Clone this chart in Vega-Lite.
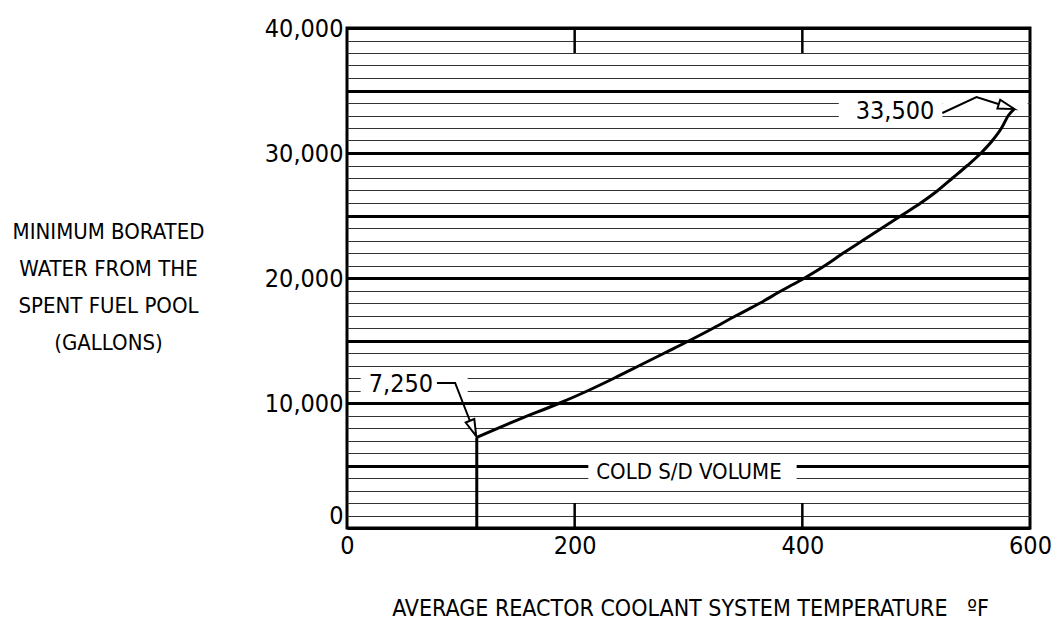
{
  "$schema": "https://vega.github.io/schema/vega-lite/v6.json",
  "autosize": {"type": "none"},
  "padding": {"left": 347, "top": 28, "right": 27, "bottom": 96},
  "width": 683,
  "height": 500,
  "background": "white",
  "config": {
    "view": {"stroke": "black", "strokeWidth": 3},
    "font": "DejaVu Sans Condensed, DejaVu Sans, sans-serif",
    "axis": {"labelFont": "DejaVu Sans Condensed, DejaVu Sans, sans-serif", "titleFont": "DejaVu Sans Condensed, DejaVu Sans, sans-serif", "labelColor": "black", "titleColor": "black", "titleFontWeight": "normal"}
  },
  "datasets": {
    "curve": [
      {"t": 114, "v": 7250}, {"t": 150, "v": 8650}, {"t": 187, "v": 10000}, {"t": 212, "v": 11000},
      {"t": 235, "v": 12000}, {"t": 257, "v": 13000}, {"t": 279, "v": 14000}, {"t": 301, "v": 15000},
      {"t": 322, "v": 16000}, {"t": 342, "v": 17000}, {"t": 363, "v": 18000}, {"t": 382, "v": 19000},
      {"t": 402, "v": 20000}, {"t": 420, "v": 21000}, {"t": 436, "v": 22000}, {"t": 453, "v": 23000},
      {"t": 470, "v": 24000}, {"t": 487, "v": 25000}, {"t": 504, "v": 26000}, {"t": 519, "v": 27000},
      {"t": 532, "v": 28000}, {"t": 545, "v": 29000}, {"t": 557, "v": 30000}, {"t": 567, "v": 31000},
      {"t": 575, "v": 32000}, {"t": 581, "v": 33000}, {"t": 586, "v": 33500}
    ],
    "floor": [{"t": 114, "v0": 0, "v1": 7250}],
    "ticks": [
      {"t": 200, "v0": 0, "v1": 2000}, {"t": 400, "v0": 0, "v1": 2000},
      {"t": 200, "v0": 38000, "v1": 40000}, {"t": 400, "v0": 38000, "v1": 40000}
    ],
    "masks": [
      {"t0": 212, "t1": 395, "v0": 3300, "v1": 5700},
      {"t0": 12, "t1": 106, "v0": 10600, "v1": 12600},
      {"t0": 432, "t1": 523, "v0": 32600, "v1": 34400},
      {"t0": 523, "t1": 598, "v0": 33800, "v1": 34200}
    ],
    "leaders": [
      {"ann": "a", "seq": 1, "t": 79, "v": 11600},
      {"ann": "a", "seq": 2, "t": 95, "v": 11600},
      {"ann": "a", "seq": 3, "t": 113, "v": 7400},
      {"ann": "b", "seq": 1, "t": 523, "v": 33200},
      {"ann": "b", "seq": 2, "t": 553, "v": 34480},
      {"ann": "b", "seq": 3, "t": 586, "v": 33520}
    ],
    "heads": [
      {"ann": "a", "t": 113.5, "v": 7350},
      {"ann": "b", "t": 586.5, "v": 33510}
    ],
    "notes": [
      {"t": 47.4, "v": 11520, "text": "7,250", "kind": "num"},
      {"t": 481.4, "v": 33360, "text": "33,500", "kind": "num"},
      {"t": 300.4, "v": 4480, "text": "COLD S/D VOLUME", "kind": "word"}
    ]
  },
  "layer": [
    {
      "data": {"name": "masks"},
      "mark": {"type": "rect", "fill": "white", "stroke": null},
      "encoding": {
        "x": {
          "field": "t0", "type": "quantitative",
          "scale": {"domain": [0, 600], "nice": false, "zero": false},
          "axis": {
            "values": [0, 200, 400, 600], "tickCount": 10,
            "ticks": false, "domain": false, "grid": false,
            "labelFontSize": 25, "labelPadding": 5, "labelFlush": false,
            "title": "AVERAGE REACTOR COOLANT SYSTEM TEMPERATURE\u00a0\u00a0\u00a0ºF",
            "titleFontSize": 23, "titleBaseline": "alphabetic", "titleAlign": "center",
            "titleX": 343, "titleY": 87
          }
        },
        "x2": {"field": "t1"},
        "y": {
          "field": "v0", "type": "quantitative",
          "scale": {"domain": [0, 40000], "nice": false, "zero": false},
          "axis": {
            "values": [0,1000,2000,3000,4000,5000,6000,7000,8000,9000,10000,11000,12000,13000,14000,15000,16000,17000,18000,19000,20000,21000,22000,23000,24000,25000,26000,27000,28000,29000,30000,31000,32000,33000,34000,35000,36000,37000,38000,39000,40000],
            "tickCount": 100,
            "ticks": false, "domain": false, "grid": true,
            "gridColor": {"condition": {"test": "datum.value % 5000 === 0", "value": "#000000"}, "value": "#333333"},
            "gridWidth": {"condition": {"test": "datum.value % 5000 === 0", "value": 3}, "value": 1.2},
            "labelExpr": "datum.value % 10000 === 0 ? format(datum.value, ',') : ''",
            "labelFontSize": 25, "labelPadding": 4, "labelFlush": false, "labelOverlap": false,
            "labelBaseline": {"condition": {"test": "datum.value === 0", "value": "bottom"}, "value": "middle"},
            "title": ["MINIMUM BORATED", "WATER FROM THE", "SPENT FUEL POOL", "(GALLONS)"],
            "titleAngle": 0, "titleFontSize": 22, "titleLineHeight": 37,
            "titleAlign": "center", "titleBaseline": "alphabetic",
            "titleX": -239, "titleY": 210
          }
        },
        "y2": {"field": "v1"}
      }
    },
    {
      "data": {"name": "ticks"},
      "mark": {"type": "rule", "color": "black", "strokeWidth": 2.5},
      "encoding": {
        "x": {"field": "t", "type": "quantitative"},
        "y": {"field": "v0", "type": "quantitative"},
        "y2": {"field": "v1"}
      }
    },
    {
      "data": {"name": "floor"},
      "mark": {"type": "rule", "color": "black", "strokeWidth": 3},
      "encoding": {
        "x": {"field": "t", "type": "quantitative"},
        "y": {"field": "v0", "type": "quantitative"},
        "y2": {"field": "v1"}
      }
    },
    {
      "data": {"name": "curve"},
      "mark": {"type": "line", "color": "black", "strokeWidth": 3, "interpolate": "monotone"},
      "encoding": {
        "x": {"field": "t", "type": "quantitative"},
        "y": {"field": "v", "type": "quantitative"}
      }
    },
    {
      "data": {"name": "leaders"},
      "mark": {"type": "line", "color": "black", "strokeWidth": 2},
      "encoding": {
        "x": {"field": "t", "type": "quantitative"},
        "y": {"field": "v", "type": "quantitative"},
        "detail": {"field": "ann"},
        "order": {"field": "seq", "type": "quantitative"}
      }
    },
    {
      "data": {"name": "heads"},
      "transform": [{"filter": "datum.ann === 'a'"}],
      "mark": {"type": "point", "shape": "M0,0 L-0.28,-1 L0.28,-1 Z", "size": 1100, "angle": 338, "filled": true, "fill": "white", "stroke": "black", "strokeWidth": 2, "opacity": 1},
      "encoding": {
        "x": {"field": "t", "type": "quantitative"},
        "y": {"field": "v", "type": "quantitative"}
      }
    },
    {
      "data": {"name": "heads"},
      "transform": [{"filter": "datum.ann === 'b'"}],
      "mark": {"type": "point", "shape": "M0,0 L-0.28,-1 L0.28,-1 Z", "size": 1100, "angle": 287.5, "filled": true, "fill": "white", "stroke": "black", "strokeWidth": 2, "opacity": 1},
      "encoding": {
        "x": {"field": "t", "type": "quantitative"},
        "y": {"field": "v", "type": "quantitative"}
      }
    },
    {
      "data": {"name": "notes"},
      "transform": [{"filter": "datum.kind === 'num'"}],
      "mark": {"type": "text", "fontSize": 25, "color": "black", "align": "center", "baseline": "middle"},
      "encoding": {
        "x": {"field": "t", "type": "quantitative"},
        "y": {"field": "v", "type": "quantitative"},
        "text": {"field": "text"}
      }
    },
    {
      "data": {"name": "notes"},
      "transform": [{"filter": "datum.kind === 'word'"}],
      "mark": {"type": "text", "fontSize": 22, "color": "black", "align": "center", "baseline": "middle"},
      "encoding": {
        "x": {"field": "t", "type": "quantitative"},
        "y": {"field": "v", "type": "quantitative"},
        "text": {"field": "text"}
      }
    }
  ]
}
